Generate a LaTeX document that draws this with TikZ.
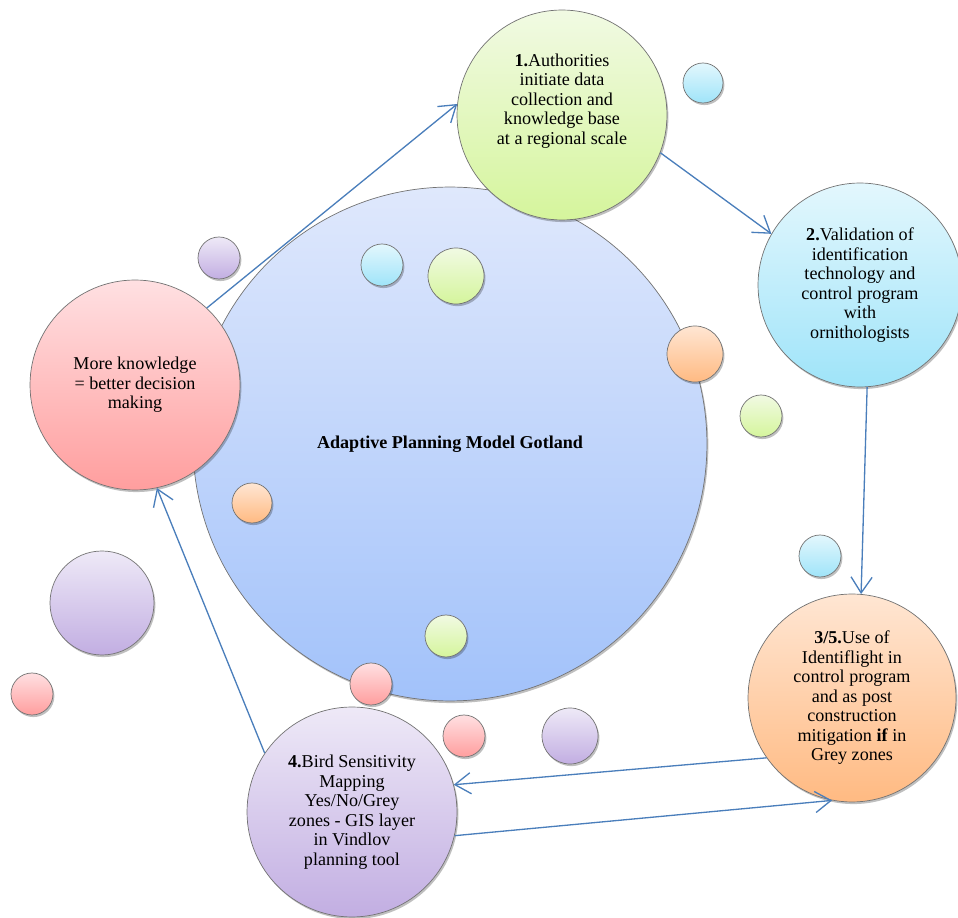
\documentclass[tikz,border=0pt]{standalone}
\usepackage{fontspec}
\setmainfont{Liberation Serif}
\usetikzlibrary{arrows.meta, shadows}

\definecolor{greenT}{HTML}{F1FAE3}
\definecolor{greenB}{HTML}{D5F59C}
\definecolor{cyanT}{HTML}{E3F7FD}
\definecolor{cyanB}{HTML}{9FE4F9}
\definecolor{orangeT}{HTML}{FFE6D3}
\definecolor{orangeB}{HTML}{FFBA82}
\definecolor{redT}{HTML}{FFE0E2}
\definecolor{redB}{HTML}{FF9E9E}
\definecolor{purpleT}{HTML}{EEE9F7}
\definecolor{purpleB}{HTML}{C2AEE2}
\definecolor{bigT}{HTML}{DFE8FC}
\definecolor{bigB}{HTML}{A2C2FA}
\definecolor{lineblue}{RGB}{74,126,187}

\tikzset{
  bubble/.style={circle, draw=black!55, line width=0.4pt, inner sep=0pt,
    top color=#1T, bottom color=#1B,
    drop shadow={shadow xshift=0.8pt, shadow yshift=-1.2pt, fill=black, opacity=0.25}},
  txt/.style={align=center, font=\fontsize{10.3}{11.1}\selectfont},
  flow/.style={draw=lineblue, line width=0.75pt, -{Straight Barb[length=9pt, width=12pt]}}
}

\begin{document}
\begin{tikzpicture}[x=0.02cm, y=-0.02cm]
\useasboundingbox (0,0) rectangle (958,918);
% central model
\node[bubble=big, minimum size=10.28cm, txt] (apm) at (450,444) {\textbf{Adaptive Planning Model Gotland}};
% small bubbles
\foreach \i/\x/\y/\r/\c in {1/703/83/20/cyan,2/695/354/28/orange,3/761/416/21/green,4/820/556/21/cyan,
  5/219/258/21/purple,6/382/265/21/cyan,7/456/276/28/green,8/252/503/20/orange,9/102/603/52/purple,
  10/32/694/21/red,11/446/636/21/green,12/371/684/21/red,13/464/736/21/red,14/570/736/28/purple} {
  \node[bubble=\c, minimum size=2*\r*0.02cm] (B\i) at (\x,\y) {};
}
% steps
\node[bubble=green, minimum size=4.2cm] (auth) at (562,115) {};
\node[txt] (authtxt) at (562,101) {\textbf{1.}Authorities\\initiate data\\collection and\\knowledge base\\at a regional scale};
\node[bubble=cyan, minimum size=4.08cm, txt] (valid) at (860,285) {\textbf{2.}Validation of\\identification\\technology and\\control program\\with\\ornithologists};
\node[bubble=orange, minimum size=4.16cm, txt] (ident) at (852,698) {\textbf{3/5.}Use of\\Identiflight in\\control program\\and as post\\construction\\mitigation \textbf{if} in\\Grey zones};
\node[bubble=purple, minimum size=4.2cm, txt] (map) at (352,812) {\textbf{4.}Bird Sensitivity\\Mapping\\Yes/No/Grey\\zones - GIS layer\\in Vindlov\\planning tool};
\node[bubble=red, minimum size=4.2cm, txt] (know) at (135,385) {More knowledge\\= better decision\\making};
% cycle arrows
\draw[flow] (know.47) -- (auth.174);
\draw[flow] (auth.-21) -- (valid.150);
\draw[flow] (valid.-86) -- (ident.85);
\draw[flow] (ident.215) -- (map.15);
\draw[flow] (map.-13) -- (ident.259);
\draw[flow] (map.146) -- (know.-78);
\end{tikzpicture}
\end{document}
